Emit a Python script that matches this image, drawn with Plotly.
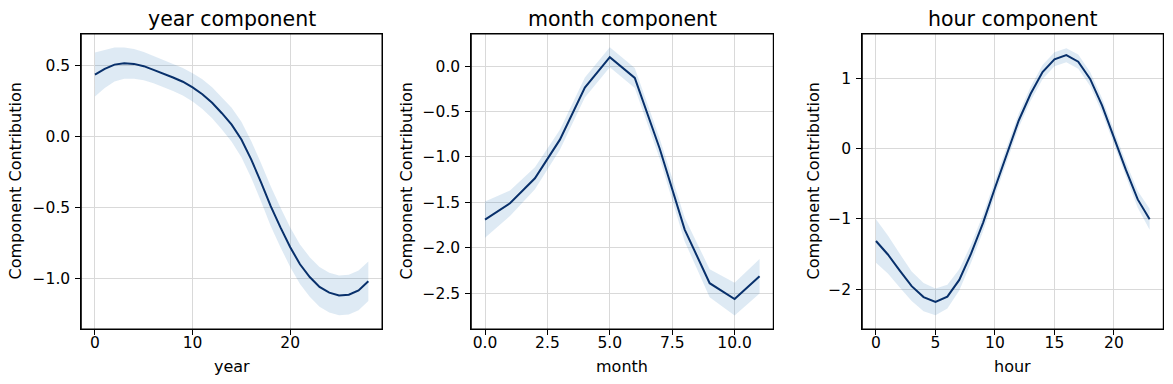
import plotly.graph_objects as go

# ---- data ----
year_x = list(range(29))
year_y = [0.439, 0.479, 0.509, 0.519, 0.514, 0.498, 0.472, 0.446, 0.418, 0.388,
          0.348, 0.300, 0.240, 0.166, 0.085, -0.02, -0.16, -0.32, -0.49, -0.64,
          -0.78, -0.90, -0.99, -1.06, -1.10, -1.12, -1.115, -1.085, -1.02]
year_err = [0.155, 0.135, 0.12, 0.11, 0.105, 0.10, 0.095, 0.095, 0.095, 0.097,
            0.10, 0.105, 0.11, 0.115, 0.12, 0.125, 0.13, 0.135, 0.14, 0.14,
            0.14, 0.14, 0.14, 0.14, 0.14, 0.14, 0.14, 0.14, 0.14]

month_x = list(range(12))
month_y = [-1.69, -1.51, -1.235, -0.81, -0.237, 0.098, -0.13, -0.91, -1.80,
           -2.39, -2.565, -2.313]
month_err = [0.2, 0.14, 0.12, 0.11, 0.11, 0.11, 0.11, 0.11, 0.13, 0.155, 0.18, 0.19]

hour_x = list(range(24))
hour_y = [-1.313, -1.505, -1.735, -1.955, -2.11, -2.18, -2.104, -1.866, -1.49,
          -1.055, -0.56, -0.07, 0.40, 0.78, 1.087, 1.269, 1.328, 1.236, 0.99,
          0.615, 0.16, -0.30, -0.722, -1.005]
hour_err = [0.31, 0.27, 0.24, 0.21, 0.2, 0.19, 0.17, 0.15, 0.13, 0.12, 0.11, 0.1,
            0.1, 0.1, 0.1, 0.1, 0.1, 0.1, 0.1, 0.1, 0.1, 0.11, 0.12, 0.15]

titles = ["year component", "month component", "hour component"]
xlabels = ["year", "month", "hour"]
ylabel = "Component Contribution"

LINE = "#08306b"
BAND = "rgba(33,113,181,0.15)"
FONT = "DejaVu Sans"
W, H = 1173, 384
TICK_SIZE = 15.5
LABEL_SIZE = 16
TITLE_SIZE = 20.5

panels = [
    dict(x=year_x, y=year_y, e=year_err, px=(81.3, 382.0), xr=(-1.4, 29.4),
         yr=(-1.357, 0.725), xd=10, yd=0.5, xf="d", yf=".1f", ylab_x=15),
    dict(x=month_x, y=month_y, e=month_err, px=(471.3, 773.3), xr=(-0.55, 11.55),
         yr=(-2.894, 0.353), xd=2.5, yd=0.5, xf=".1f", yf=".1f", ylab_x=406),
    dict(x=hour_x, y=hour_y, e=hour_err, px=(862.3, 1163.3), xr=(-1.15, 24.15),
         yr=(-2.564, 1.629), xd=5, yd=1, xf="d", yf="d", ylab_x=813),
]

top_px, bot_px = 34.0, 329.0
ydom = [1 - bot_px / H, 1 - top_px / H]

fig = go.Figure()
annotations = []
shapes = []
layout = {}
for i, p in enumerate(panels):
    n = "" if i == 0 else str(i + 1)
    xa, ya = "x" + n, "y" + n
    lower = [v - e for v, e in zip(p["y"], p["e"])]
    upper = [v + e for v, e in zip(p["y"], p["e"])]
    fig.add_trace(go.Scatter(x=p["x"], y=lower, mode="lines", line=dict(width=0),
                             hoverinfo="skip", showlegend=False, xaxis=xa, yaxis=ya))
    fig.add_trace(go.Scatter(x=p["x"], y=upper, mode="lines", line=dict(width=0),
                             fill="tonexty", fillcolor=BAND, hoverinfo="skip",
                             showlegend=False, xaxis=xa, yaxis=ya))
    fig.add_trace(go.Scatter(x=p["x"], y=p["y"], mode="lines",
                             line=dict(color=LINE, width=2),
                             showlegend=False, xaxis=xa, yaxis=ya))
    common = dict(showline=True, mirror=True, linecolor="black", linewidth=1,
                  ticks="outside", ticklen=5, tickwidth=1, tickcolor="black",
                  showgrid=True, gridcolor="#d9d9d9", gridwidth=1, zeroline=False,
                  tickfont=dict(family=FONT, size=TICK_SIZE, color="black"))
    layout["xaxis" + n] = dict(common, domain=[p["px"][0] / W, p["px"][1] / W],
                               range=list(p["xr"]), dtick=p["xd"], tick0=0,
                               tickformat=p["xf"], anchor=ya, ticklabelstandoff=-6)
    layout["yaxis" + n] = dict(common, domain=ydom, range=list(p["yr"]),
                               dtick=p["yd"], tick0=0, tickformat=p["yf"], anchor=xa,
                               ticklabelstandoff=2)
    shapes.append(dict(type="rect", xref=xa + " domain", yref=ya + " domain",
                       x0=0, x1=1, y0=0, y1=1, line=dict(color="black", width=1),
                       fillcolor="rgba(0,0,0,0)", layer="above"))
    cx = (p["px"][0] + p["px"][1]) / 2 / W
    annotations.append(dict(text=titles[i], x=cx, y=1 - 19 / H, xref="paper",
                            yref="paper", xanchor="center", yanchor="middle",
                            showarrow=False,
                            font=dict(family=FONT, size=TITLE_SIZE, color="black")))
    annotations.append(dict(text=xlabels[i], x=cx, y=1 - 366 / H, xref="paper",
                            yref="paper", xanchor="center", yanchor="middle",
                            showarrow=False,
                            font=dict(family=FONT, size=LABEL_SIZE, color="black")))
    annotations.append(dict(text=ylabel, x=p["ylab_x"] / W,
                            y=(ydom[0] + ydom[1]) / 2, xref="paper", yref="paper",
                            xanchor="center", yanchor="middle", textangle=-90,
                            showarrow=False,
                            font=dict(family=FONT, size=LABEL_SIZE, color="black")))

fig.update_layout(**layout)
fig.update_layout(width=W, height=H, margin=dict(l=0, r=0, t=0, b=0),
                  paper_bgcolor="white", plot_bgcolor="white",
                  annotations=annotations, shapes=shapes, showlegend=False)
fig.write_html("out.html", config={"displayModeBar": False},
               post_script="document.body.style.margin='0';"
                           "document.body.style.padding='0';")
